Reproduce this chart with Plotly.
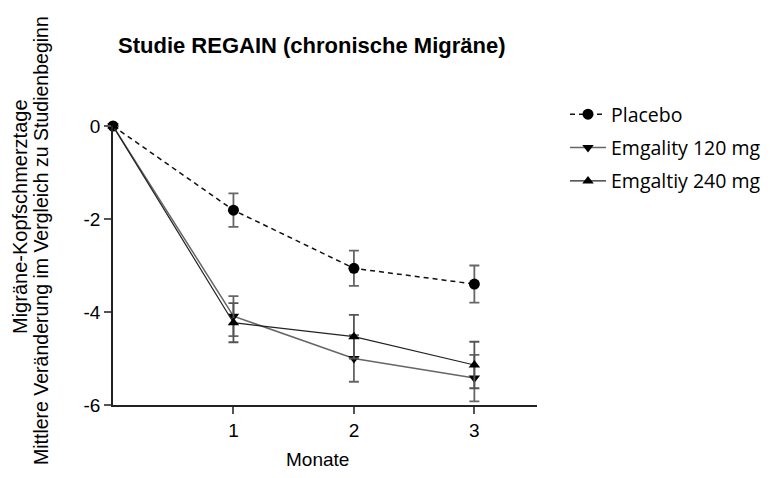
import plotly.graph_objects as go

months = [0, 1, 2, 3]
placebo = [0, -1.81, -3.06, -3.40]
placebo_err = [0, 0.36, 0.38, 0.40]
emg120 = [0, -4.09, -5.00, -5.42]
emg120_err = [0, 0.43, 0.50, 0.50]
emg240 = [0, -4.23, -4.53, -5.14]
emg240_err = [0, 0.42, 0.47, 0.50]

series_names = ["Placebo", "Emgality 120 mg", "Emgaltiy 240 mg"]
x_ticks = [1, 2, 3]
y_ticks = [0, -2, -4, -6]

OFF = 8
L, R, T, B = 105, 241, 118, 81
PW, PH = 770 - L - R, 478 - T - B


def px(page_x):
    return (page_x - OFF - L) / PW


def py(page_y):
    return (T + PH - (page_y - OFF)) / PH


fig = go.Figure()

fig.add_trace(go.Scatter(
    x=months, y=placebo, name=series_names[0], mode="lines+markers", legendgroup="a",
    line=dict(color="#111111", width=1.5, dash="5px,4px"),
    marker=dict(symbol="circle", size=11, color="#000000"),
    error_y=dict(type="data", array=placebo_err, color="#666666", thickness=1.8, width=5),
    cliponaxis=False,
))
fig.add_trace(go.Scatter(
    x=months, y=emg120, name=series_names[1], mode="lines+markers", legendgroup="b",
    line=dict(color="#666666", width=1.5),
    marker=dict(symbol="triangle-down", size=10, color="#000000"),
    error_y=dict(type="data", array=emg120_err, color="#666666", thickness=1.8, width=5),
    cliponaxis=False,
))
fig.add_trace(go.Scatter(
    x=months, y=emg240, name=series_names[2], mode="lines+markers", legendgroup="c",
    line=dict(color="#222222", width=1.2),
    marker=dict(symbol="triangle-up", size=10, color="#000000"),
    error_y=dict(type="data", array=emg240_err, color="#555555", thickness=1.8, width=5),
    cliponaxis=False,
))

fig.update_layout(
    width=770, height=478,
    paper_bgcolor="white", plot_bgcolor="white",
    margin=dict(l=L, r=R, t=T, b=B),
    font=dict(family="Liberation Sans, Arial", size=19, color="#000000"),
    title=dict(text="<b>Studie REGAIN (chronische Migräne)</b>",
               x=(118 - OFF) / 770, xanchor="left", y=1 - (45 - OFF) / 478, yanchor="middle",
               font=dict(size=22, family="Liberation Sans, Arial")),
    showlegend=True,
    legend=dict(x=px(565), y=py(95), yanchor="top", xanchor="left",
                font=dict(size=19.5, family="Open Sans"),
                itemwidth=36, tracegroupgap=5, bgcolor="rgba(0,0,0,0)"),
    xaxis=dict(range=[0, 3.52], tickvals=x_ticks, ticktext=[str(t) for t in x_ticks],
               showgrid=False, zeroline=False, showline=True, linecolor="#222222", linewidth=1.5,
               ticks="outside", ticklen=7, tickcolor="#555555", tickwidth=1.5,
               tickfont=dict(size=19)),
    yaxis=dict(range=[-6, 0], tickvals=y_ticks, ticktext=[str(t) for t in y_ticks],
               showgrid=False, zeroline=False, showline=True, linecolor="#222222", linewidth=1.5,
               ticks="outside", ticklen=7, tickcolor="#555555", tickwidth=1.5,
               tickfont=dict(size=19)),
)

fig.add_annotation(text="Migräne-Kopfschmerztage", textangle=-90,
                   xref="paper", yref="paper", x=px(20), xanchor="center",
                   y=py(217), yanchor="middle", showarrow=False, font=dict(size=20))
fig.add_annotation(text="Mittlere Veränderung im Vergleich zu Studienbeginn", textangle=-90,
                   xref="paper", yref="paper", x=px(41), xanchor="center",
                   y=py(241), yanchor="middle", showarrow=False, font=dict(size=19.5))
fig.add_annotation(text="Monate", xref="paper", yref="paper", x=px(317), xanchor="center",
                   y=py(459), yanchor="middle", showarrow=False, font=dict(size=19))

fig.write_html("out.html")
